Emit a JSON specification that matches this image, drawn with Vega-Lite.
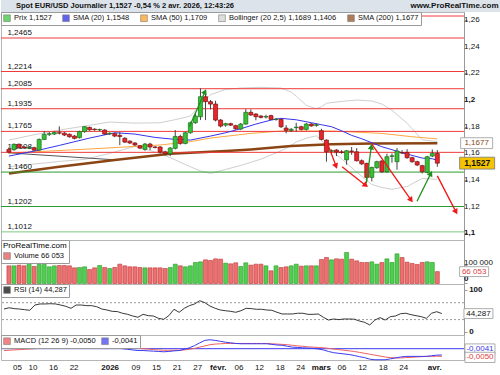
{
"$schema": "https://vega.github.io/schema/vega-lite/v6.json",
"padding": 0,
"background": "white",
"spacing": 0,
"bounds": "flush",
"resolve": {"scale": {"color": "independent", "stroke": "independent"}, "legend": {"color": "independent", "stroke": "independent"}},
"config": {
  "view": {"stroke": "#b5b5b5", "strokeWidth": 1},
  "font": "Liberation Sans",
  "locale": {"number": {"decimal": ",", "thousands": " ", "grouping": [3], "currency": ["", " €"], "minus": "-"}},
  "axis": {"labels": false, "domainColor": "#999", "tickColor": "#999", "tickSize": 3, "grid": false},
  "text": {"font": "Liberation Sans"},
  "legend": {"labelFont": "Liberation Sans", "labelFontSize": 7.5, "labelColor": "#111"}
},
"datasets": {
  "c": [
{"i":0,"d":"2025-12-02","o":1.163,"h":1.1645,"l":1.16,"c":1.161,"v":98200,"r":55,"m":0.0002,"s":-0.0012},
{"i":1,"d":"2025-12-03","o":1.1628,"h":1.1675,"l":1.162,"c":1.1668,"v":98200,"r":58,"m":0.0002,"s":-0.001},
{"i":2,"d":"2025-12-04","o":1.1668,"h":1.1675,"l":1.1638,"c":1.1643,"v":101900,"r":56,"m":0.0004,"s":-0.0008},
{"i":3,"d":"2025-12-05","o":1.1648,"h":1.1655,"l":1.1635,"c":1.1642,"v":98200,"r":55,"m":0.0004,"s":-0.0006},
{"i":4,"d":"2025-12-08","o":1.164,"h":1.1652,"l":1.1632,"c":1.1645,"v":129600,"r":53.5,"m":0.0002,"s":-0.0004},
{"i":5,"d":"2025-12-09","o":1.1643,"h":1.165,"l":1.1618,"c":1.1625,"v":94500,"r":52,"m":0.0002,"s":-0.0002},
{"i":6,"d":"2025-12-10","o":1.1625,"h":1.1712,"l":1.162,"c":1.1705,"v":105600,"r":64.5,"m":0.0006,"s":0},
{"i":7,"d":"2025-12-11","o":1.1705,"h":1.1768,"l":1.17,"c":1.1743,"v":105600,"r":67,"m":0.001,"s":0.0002},
{"i":8,"d":"2025-12-12","o":1.1743,"h":1.176,"l":1.173,"c":1.1748,"v":92600,"r":67,"m":0.0014,"s":0.0004},
{"i":9,"d":"2025-12-15","o":1.1745,"h":1.1765,"l":1.1738,"c":1.1757,"v":98200,"r":67.6,"m":0.0016,"s":0.0006},
{"i":10,"d":"2025-12-16","o":1.1755,"h":1.1803,"l":1.1742,"c":1.1752,"v":100000,"r":67,"m":0.0018,"s":0.0008},
{"i":11,"d":"2025-12-17","o":1.1752,"h":1.176,"l":1.173,"c":1.1738,"v":100000,"r":64.5,"m":0.0018,"s":0.001},
{"i":12,"d":"2025-12-18","o":1.1743,"h":1.175,"l":1.1718,"c":1.1725,"v":98200,"r":61.5,"m":0.0016,"s":0.0012},
{"i":13,"d":"2025-12-19","o":1.173,"h":1.1738,"l":1.1705,"c":1.1713,"v":87000,"r":56.7,"m":0.0014,"s":0.0012},
{"i":14,"d":"2025-12-22","o":1.1718,"h":1.177,"l":1.1712,"c":1.1763,"v":88900,"r":64.5,"m":0.0014,"s":0.0012},
{"i":15,"d":"2025-12-23","o":1.1763,"h":1.1805,"l":1.1755,"c":1.18,"v":92600,"r":64.5,"m":0.0016,"s":0.0012},
{"i":16,"d":"2025-12-24","o":1.1795,"h":1.18,"l":1.177,"c":1.1777,"v":77800,"r":63,"m":0.0016,"s":0.0014},
{"i":17,"d":"2025-12-26","o":1.1782,"h":1.1788,"l":1.177,"c":1.1778,"v":87000,"r":63,"m":0.0016,"s":0.0014},
{"i":18,"d":"2025-12-29","o":1.1776,"h":1.1786,"l":1.1768,"c":1.1779,"v":100000,"r":60.5,"m":0.0014,"s":0.0014},
{"i":19,"d":"2025-12-30","o":1.1775,"h":1.1782,"l":1.1738,"c":1.1745,"v":88900,"r":55,"m":0.0012,"s":0.0014},
{"i":20,"d":"2025-12-31","o":1.1746,"h":1.1758,"l":1.1738,"c":1.1751,"v":83300,"r":52.7,"m":0.0008,"s":0.0014},
{"i":21,"d":"2026-01-02","o":1.1748,"h":1.1755,"l":1.1722,"c":1.173,"v":88900,"r":49.6,"m":0.0006,"s":0.0012},
{"i":22,"d":"2026-01-05","o":1.1735,"h":1.176,"l":1.1662,"c":1.1727,"v":107400,"r":49,"m":0.0004,"s":0.0012},
{"i":23,"d":"2026-01-06","o":1.1713,"h":1.1722,"l":1.1678,"c":1.1685,"v":98200,"r":45,"m":0,"s":0.001},
{"i":24,"d":"2026-01-07","o":1.1692,"h":1.1698,"l":1.167,"c":1.1678,"v":92600,"r":42.5,"m":-0.0004,"s":0.0008},
{"i":25,"d":"2026-01-08","o":1.1678,"h":1.1685,"l":1.1655,"c":1.1663,"v":92600,"r":38.5,"m":-0.0008,"s":0.0006},
{"i":26,"d":"2026-01-09","o":1.1658,"h":1.1662,"l":1.1632,"c":1.164,"v":88900,"r":35.5,"m":-0.0012,"s":0.0002},
{"i":27,"d":"2026-01-12","o":1.163,"h":1.1678,"l":1.162,"c":1.167,"v":87000,"r":42.5,"m":-0.0012,"s":0},
{"i":28,"d":"2026-01-13","o":1.167,"h":1.168,"l":1.1625,"c":1.1648,"v":87000,"r":39.3,"m":-0.0014,"s":-0.0002},
{"i":29,"d":"2026-01-14","o":1.1648,"h":1.1655,"l":1.1638,"c":1.1645,"v":87000,"r":38.5,"m":-0.0016,"s":-0.0006},
{"i":30,"d":"2026-01-15","o":1.1648,"h":1.1655,"l":1.16,"c":1.161,"v":87000,"r":33,"m":-0.0018,"s":-0.0008},
{"i":31,"d":"2026-01-16","o":1.1612,"h":1.162,"l":1.1585,"c":1.1598,"v":83300,"r":30.7,"m":-0.002,"s":-0.001},
{"i":32,"d":"2026-01-19","o":1.1597,"h":1.1648,"l":1.158,"c":1.164,"v":88900,"r":39.3,"m":-0.0018,"s":-0.001},
{"i":33,"d":"2026-01-20","o":1.1638,"h":1.1775,"l":1.163,"c":1.1727,"v":107400,"r":54.4,"m":-0.0014,"s":-0.001},
{"i":34,"d":"2026-01-21","o":1.1727,"h":1.174,"l":1.1665,"c":1.1675,"v":98200,"r":47.3,"m":-0.0012,"s":-0.001},
{"i":35,"d":"2026-01-22","o":1.1675,"h":1.1762,"l":1.1668,"c":1.1755,"v":92600,"r":56.7,"m":-0.0004,"s":-0.0008},
{"i":36,"d":"2026-01-23","o":1.1755,"h":1.1838,"l":1.1748,"c":1.183,"v":98200,"r":63,"m":0.0006,"s":-0.0004},
{"i":37,"d":"2026-01-26","o":1.183,"h":1.1905,"l":1.1822,"c":1.188,"v":116700,"r":67,"m":0.002,"s":0.0002},
{"i":38,"d":"2026-01-27","o":1.1875,"h":1.2088,"l":1.185,"c":1.2025,"v":120400,"r":74.7,"m":0.0038,"s":0.001},
{"i":39,"d":"2026-01-28","o":1.2025,"h":1.2065,"l":1.185,"c":1.1988,"v":131500,"r":70,"m":0.0054,"s":0.0018},
{"i":40,"d":"2026-01-29","o":1.1988,"h":1.2,"l":1.193,"c":1.197,"v":127800,"r":62,"m":0.0058,"s":0.0026},
{"i":41,"d":"2026-01-30","o":1.197,"h":1.1995,"l":1.184,"c":1.185,"v":137000,"r":56.7,"m":0.0054,"s":0.003},
{"i":42,"d":"2026-02-02","o":1.185,"h":1.1858,"l":1.1795,"c":1.1805,"v":135200,"r":52.7,"m":0.0048,"s":0.0032},
{"i":43,"d":"2026-02-03","o":1.1812,"h":1.183,"l":1.18,"c":1.1823,"v":113000,"r":51,"m":0.0042,"s":0.0034},
{"i":44,"d":"2026-02-04","o":1.1823,"h":1.183,"l":1.1805,"c":1.1812,"v":109300,"r":49.6,"m":0.0038,"s":0.0034},
{"i":45,"d":"2026-02-05","o":1.1808,"h":1.1815,"l":1.1778,"c":1.1785,"v":114800,"r":47.3,"m":0.0034,"s":0.0034},
{"i":46,"d":"2026-02-06","o":1.1783,"h":1.1828,"l":1.1775,"c":1.182,"v":94500,"r":51,"m":0.0032,"s":0.0034},
{"i":47,"d":"2026-02-09","o":1.182,"h":1.1932,"l":1.1815,"c":1.1908,"v":114800,"r":56.7,"m":0.0032,"s":0.0034},
{"i":48,"d":"2026-02-10","o":1.1908,"h":1.193,"l":1.1882,"c":1.1888,"v":101900,"r":56,"m":0.0032,"s":0.0034},
{"i":49,"d":"2026-02-11","o":1.1895,"h":1.1902,"l":1.1848,"c":1.1875,"v":107400,"r":54.4,"m":0.0032,"s":0.0034},
{"i":50,"d":"2026-02-12","o":1.188,"h":1.1888,"l":1.1862,"c":1.187,"v":107400,"r":54.4,"m":0.0032,"s":0.0034},
{"i":51,"d":"2026-02-13","o":1.1873,"h":1.189,"l":1.1862,"c":1.1876,"v":98200,"r":52.7,"m":0.0032,"s":0.0034},
{"i":52,"d":"2026-02-16","o":1.1883,"h":1.189,"l":1.185,"c":1.1855,"v":70400,"r":52,"m":0.0028,"s":0.0032},
{"i":53,"d":"2026-02-17","o":1.1855,"h":1.1865,"l":1.1845,"c":1.1857,"v":98200,"r":47.3,"m":0.0024,"s":0.003},
{"i":54,"d":"2026-02-18","o":1.1855,"h":1.1862,"l":1.179,"c":1.18,"v":88900,"r":43.3,"m":0.0022,"s":0.0028},
{"i":55,"d":"2026-02-19","o":1.179,"h":1.1812,"l":1.175,"c":1.1773,"v":92600,"r":43.3,"m":0.0016,"s":0.0026},
{"i":56,"d":"2026-02-20","o":1.1772,"h":1.179,"l":1.176,"c":1.1781,"v":98200,"r":43.3,"m":0.001,"s":0.0022},
{"i":57,"d":"2026-02-23","o":1.1793,"h":1.183,"l":1.1763,"c":1.1797,"v":107400,"r":45,"m":0.0008,"s":0.0018},
{"i":58,"d":"2026-02-24","o":1.18,"h":1.1808,"l":1.1772,"c":1.178,"v":96300,"r":45,"m":0.0006,"s":0.0016},
{"i":59,"d":"2026-02-25","o":1.178,"h":1.1828,"l":1.1772,"c":1.182,"v":98200,"r":42.5,"m":0.0004,"s":0.0012},
{"i":60,"d":"2026-02-26","o":1.182,"h":1.1828,"l":1.18,"c":1.1806,"v":98200,"r":42.5,"m":0.0002,"s":0.001},
{"i":61,"d":"2026-02-27","o":1.181,"h":1.1825,"l":1.18,"c":1.1815,"v":98200,"r":43.3,"m":-0.0002,"s":0.0008},
{"i":62,"d":"2026-03-02","o":1.177,"h":1.1785,"l":1.1698,"c":1.1705,"v":133300,"r":35.5,"m":-0.0008,"s":0.0006},
{"i":63,"d":"2026-03-03","o":1.17,"h":1.1705,"l":1.1538,"c":1.1612,"v":144500,"r":29,"m":-0.0018,"s":0.0002},
{"i":64,"d":"2026-03-04","o":1.1615,"h":1.163,"l":1.1595,"c":1.1622,"v":131500,"r":31.4,"m":-0.0026,"s":-0.0002},
{"i":65,"d":"2026-03-05","o":1.1625,"h":1.1632,"l":1.158,"c":1.161,"v":137000,"r":30,"m":-0.003,"s":-0.0006},
{"i":66,"d":"2026-03-06","o":1.1612,"h":1.1625,"l":1.1598,"c":1.1607,"v":135200,"r":31.4,"m":-0.0034,"s":-0.001},
{"i":67,"d":"2026-03-09","o":1.1552,"h":1.1625,"l":1.1515,"c":1.162,"v":172200,"r":31.4,"m":-0.0038,"s":-0.0014},
{"i":68,"d":"2026-03-10","o":1.1618,"h":1.1648,"l":1.159,"c":1.1614,"v":135200,"r":31,"m":-0.0044,"s":-0.0018},
{"i":69,"d":"2026-03-11","o":1.1612,"h":1.164,"l":1.154,"c":1.1545,"v":125900,"r":26.7,"m":-0.0052,"s":-0.0024},
{"i":70,"d":"2026-03-12","o":1.1545,"h":1.1555,"l":1.1512,"c":1.1522,"v":116700,"r":23.6,"m":-0.0058,"s":-0.003},
{"i":71,"d":"2026-03-13","o":1.1525,"h":1.153,"l":1.139,"c":1.142,"v":116700,"r":17.3,"m":-0.0068,"s":-0.0036},
{"i":72,"d":"2026-03-16","o":1.142,"h":1.15,"l":1.139,"c":1.1495,"v":120400,"r":29,"m":-0.0072,"s":-0.0042},
{"i":73,"d":"2026-03-17","o":1.1493,"h":1.1545,"l":1.1485,"c":1.1538,"v":107400,"r":34.6,"m":-0.0072,"s":-0.0048},
{"i":74,"d":"2026-03-18","o":1.1543,"h":1.155,"l":1.1455,"c":1.1462,"v":116700,"r":29,"m":-0.0072,"s":-0.0054},
{"i":75,"d":"2026-03-19","o":1.1462,"h":1.1598,"l":1.1455,"c":1.1575,"v":137000,"r":37,"m":-0.0066,"s":-0.0058},
{"i":76,"d":"2026-03-20","o":1.1578,"h":1.16,"l":1.153,"c":1.1582,"v":116700,"r":38.5,"m":-0.006,"s":-0.006},
{"i":77,"d":"2026-03-23","o":1.1538,"h":1.164,"l":1.1478,"c":1.1618,"v":164800,"r":44,"m":-0.0054,"s":-0.006},
{"i":78,"d":"2026-03-24","o":1.1606,"h":1.1625,"l":1.1595,"c":1.1604,"v":144500,"r":45,"m":-0.005,"s":-0.0058},
{"i":79,"d":"2026-03-25","o":1.1608,"h":1.1632,"l":1.156,"c":1.1568,"v":118500,"r":41.7,"m":-0.005,"s":-0.0056},
{"i":80,"d":"2026-03-26","o":1.1568,"h":1.1575,"l":1.153,"c":1.1538,"v":111100,"r":39.3,"m":-0.005,"s":-0.0054},
{"i":81,"d":"2026-03-27","o":1.1538,"h":1.1545,"l":1.1505,"c":1.1513,"v":105600,"r":37,"m":-0.005,"s":-0.0052},
{"i":82,"d":"2026-03-30","o":1.1508,"h":1.1515,"l":1.145,"c":1.1463,"v":116700,"r":33,"m":-0.005,"s":-0.005},
{"i":83,"d":"2026-03-31","o":1.1458,"h":1.1582,"l":1.145,"c":1.1575,"v":120400,"r":45,"m":-0.0046,"s":-0.005},
{"i":84,"d":"2026-04-01","o":1.158,"h":1.163,"l":1.1572,"c":1.16,"v":116700,"r":48.7,"m":-0.0042,"s":-0.0049},
{"i":85,"d":"2026-04-02","o":1.16,"h":1.1625,"l":1.15,"c":1.1527,"v":66053,"r":44.287,"m":-0.0041,"s":-0.005}
  ],
  "xl": [{"i":3,"t":"05","mo":false},{"i":6,"t":"10","mo":false},{"i":10,"t":"16","mo":false},{"i":14,"t":"22","mo":false},{"i":21,"t":"2026","mo":true},{"i":26,"t":"09","mo":false},{"i":30,"t":"15","mo":false},{"i":34,"t":"21","mo":false},{"i":38,"t":"27","mo":false},{"i":42,"t":"févr.","mo":true},{"i":46,"t":"06","mo":false},{"i":50,"t":"12","mo":false},{"i":54,"t":"18","mo":false},{"i":58,"t":"24","mo":false},{"i":62,"t":"mars","mo":true},{"i":66,"t":"06","mo":false},{"i":70,"t":"12","mo":false},{"i":74,"t":"18","mo":false},{"i":78,"t":"24","mo":false},{"i":84,"t":"avr.","mo":true}],
  "yl": [{"p":1.1,"b":true},{"p":1.12,"b":false},{"p":1.14,"b":false},{"p":1.16,"b":false},{"p":1.18,"b":false},{"p":1.2,"b":true},{"p":1.22,"b":false},{"p":1.24,"b":false},{"p":1.26,"b":false}],
  "sma20": [{"i":0,"v":1.158},{"i":6,"v":1.1625},{"i":10,"v":1.166},{"i":16,"v":1.1715},{"i":21,"v":1.1755},{"i":25,"v":1.1745},{"i":29,"v":1.172},{"i":33,"v":1.1705},{"i":36,"v":1.17},{"i":40,"v":1.173},{"i":43,"v":1.1755},{"i":46,"v":1.1785},{"i":49,"v":1.182},{"i":52,"v":1.185},{"i":54,"v":1.1863},{"i":57,"v":1.1852},{"i":60,"v":1.183},{"i":62,"v":1.1815},{"i":64,"v":1.18},{"i":66,"v":1.177},{"i":68,"v":1.1735},{"i":70,"v":1.171},{"i":72,"v":1.168},{"i":74,"v":1.165},{"i":76,"v":1.1628},{"i":78,"v":1.1605},{"i":80,"v":1.1585},{"i":82,"v":1.1565},{"i":84,"v":1.156},{"i":85,"v":1.1548}],
  "sma50": [{"i":0,"v":1.1603},{"i":15,"v":1.1631},{"i":30,"v":1.1663},{"i":36,"v":1.1688},{"i":40,"v":1.1715},{"i":48,"v":1.175},{"i":54,"v":1.1768},{"i":64,"v":1.1768},{"i":74,"v":1.175},{"i":80,"v":1.1725},{"i":85,"v":1.1709}],
  "sma200": [{"i":0,"v":1.145},{"i":10,"v":1.15},{"i":21,"v":1.155},{"i":32,"v":1.1597},{"i":44,"v":1.162},{"i":48,"v":1.163},{"i":56,"v":1.1655},{"i":64,"v":1.1668},{"i":72,"v":1.1675},{"i":85,"v":1.1677}],
  "dark": [{"i":0,"v":1.1604},{"i":21,"v":1.1552}],
  "bb": [{"i":0,"u":1.17,"lo":1.15},{"i":5,"u":1.174,"lo":1.152},{"i":10,"u":1.1775,"lo":1.154},{"i":15,"u":1.1805,"lo":1.1555},{"i":20,"u":1.1835,"lo":1.16},{"i":25,"u":1.1827,"lo":1.1653},{"i":30,"u":1.183,"lo":1.16},{"i":33,"u":1.1853,"lo":1.1551},{"i":36,"u":1.188,"lo":1.15},{"i":38,"u":1.1963,"lo":1.1469},{"i":40,"u":1.204,"lo":1.145},{"i":43,"u":1.208,"lo":1.148},{"i":46,"u":1.209,"lo":1.151},{"i":50,"u":1.2095,"lo":1.1557},{"i":54,"u":1.209,"lo":1.162},{"i":56,"u":1.206,"lo":1.166},{"i":57,"u":1.203,"lo":1.1686},{"i":59,"u":1.196,"lo":1.1714},{"i":61,"u":1.1936,"lo":1.1732},{"i":62,"u":1.195,"lo":1.17},{"i":63,"u":1.1976,"lo":1.1648},{"i":66,"u":1.199,"lo":1.156},{"i":69,"u":1.2,"lo":1.146},{"i":72,"u":1.1993,"lo":1.1367},{"i":74,"u":1.197,"lo":1.1345},{"i":76,"u":1.1924,"lo":1.1331},{"i":79,"u":1.1826,"lo":1.1352},{"i":82,"u":1.1702,"lo":1.1412},{"i":85,"u":1.1689,"lo":1.1406}],
  "levels": [{"p":1.263,"k":"r"},{"p":1.2465,"k":"r"},{"p":1.2214,"k":"r"},{"p":1.2085,"k":"r"},{"p":1.1935,"k":"r"},{"p":1.1765,"k":"r"},{"p":1.1608,"k":"r"},{"p":1.146,"k":"g"},{"p":1.1202,"k":"g"},{"p":1.1012,"k":"lg"}],
  "arrows": [{"x1":35.8,"p1":1.18,"x2":38.9,"p2":1.2063,"k":"g"},{"x1":63.1,"p1":1.1685,"x2":64.9,"p2":1.1505,"k":"r"},{"x1":66.1,"p1":1.15,"x2":70.8,"p2":1.136,"k":"r"},{"x1":70.9,"p1":1.1375,"x2":71.9,"p2":1.165,"k":"g"},{"x1":71.9,"p1":1.1675,"x2":79.8,"p2":1.125,"k":"r"},{"x1":80.97,"p1":1.1242,"x2":83.7,"p2":1.145,"k":"g"},{"x1":85,"p1":1.1432,"x2":88.7,"p2":1.1162,"k":"r"}]
},
"vconcat": [
 {
  "width": 500, "height": 12,
  "view": {"fill": "#dce3eb", "stroke": null},
  "layer": [
   {"data": {"values": [{"t": "Spot EUR/USD Journalier 1,1527 -0,54 % 2 avr. 2026, 12:43:26"}]},
    "mark": {"type": "text", "align": "left", "baseline": "middle", "fontWeight": "bold", "fontSize": 7.5, "color": "#111"},
    "encoding": {"text": {"field": "t"}, "x": {"datum": 0.03, "type": "quantitative", "scale": {"domain": [0, 1]}, "axis": null}, "y": {"datum": 0.5, "type": "quantitative", "scale": {"domain": [0, 1]}, "axis": null}}},
   {"data": {"values": [{"t": "www.ProRealTime.com"}]},
    "mark": {"type": "text", "align": "right", "baseline": "middle", "fontWeight": "bold", "fontSize": 8, "color": "#111"},
    "encoding": {"text": {"field": "t"}, "x": {"datum": 0.995, "type": "quantitative", "scale": {"domain": [0, 1]}, "axis": null}, "y": {"datum": 0.5, "type": "quantitative", "scale": {"domain": [0, 1]}, "axis": null}}}
  ]
 },
 {
  "width": 463, "height": 228,
  "layer": [
   {"data": {"name": "bb"}, "mark": {"type": "line", "color": "#cfcfcf", "strokeWidth": 1},
    "encoding": {"x": {"field": "i", "type": "quantitative", "scale": {"domain": [-0.58, 89.3], "nice": false, "zero": false}, "axis": null},
     "y": {"field": "u", "type": "quantitative", "scale": {"domain": [1.0951, 1.266], "nice": false, "zero": false}, "title": null,
      "axis": {"orient": "right", "values": [1.1, 1.12, 1.14, 1.16, 1.18, 1.2, 1.22, 1.24, 1.26], "labels": false}}}},
   {"data": {"name": "yl"}, "transform": [{"filter": "!datum.b"}],
    "mark": {"type": "text", "align": "left", "baseline": "middle", "fontSize": 8, "color": "#111", "clip": false},
    "encoding": {"x": {"datum": 90.3, "type": "quantitative", "scale": {"domain": [-0.58, 89.3], "nice": false, "zero": false}, "axis": null},
     "y": {"field": "p", "type": "quantitative", "scale": {"domain": [1.0951, 1.266], "nice": false, "zero": false}, "title": null},
     "text": {"field": "p", "type": "quantitative", "format": ".2~f"}}},
   {"data": {"name": "yl"}, "transform": [{"filter": "datum.b"}],
    "mark": {"type": "text", "align": "left", "baseline": "middle", "fontSize": 8, "fontWeight": "bold", "color": "#111", "clip": false},
    "encoding": {"x": {"datum": 90.3, "type": "quantitative", "scale": {"domain": [-0.58, 89.3], "nice": false, "zero": false}, "axis": null},
     "y": {"field": "p", "type": "quantitative", "scale": {"domain": [1.0951, 1.266], "nice": false, "zero": false}, "title": null},
     "text": {"field": "p", "type": "quantitative", "format": ".2~f"}}},
   {"data": {"name": "bb"}, "mark": {"type": "line", "color": "#cfcfcf", "strokeWidth": 1},
    "encoding": {"x": {"field": "i", "type": "quantitative", "scale": {"domain": [-0.58, 89.3], "nice": false, "zero": false}, "axis": null},
     "y": {"field": "lo", "type": "quantitative", "scale": {"domain": [1.0951, 1.266], "nice": false, "zero": false}, "title": null}}},
   {"data": {"name": "dark"}, "mark": {"type": "line", "color": "#555555", "strokeWidth": 1},
    "encoding": {"x": {"field": "i", "type": "quantitative", "scale": {"domain": [-0.58, 89.3], "nice": false, "zero": false}, "axis": null},
     "y": {"field": "v", "type": "quantitative", "scale": {"domain": [1.0951, 1.266], "nice": false, "zero": false}, "title": null}}},
   {"data": {"name": "sma200"}, "mark": {"type": "line", "color": "#8b4513", "strokeWidth": 2.5},
    "encoding": {"x": {"field": "i", "type": "quantitative", "scale": {"domain": [-0.58, 89.3], "nice": false, "zero": false}, "axis": null},
     "y": {"field": "v", "type": "quantitative", "scale": {"domain": [1.0951, 1.266], "nice": false, "zero": false}, "title": null}}},
   {"data": {"name": "sma50"}, "mark": {"type": "line", "color": "#ffa640", "strokeWidth": 1},
    "encoding": {"x": {"field": "i", "type": "quantitative", "scale": {"domain": [-0.58, 89.3], "nice": false, "zero": false}, "axis": null},
     "y": {"field": "v", "type": "quantitative", "scale": {"domain": [1.0951, 1.266], "nice": false, "zero": false}, "title": null}}},
   {"data": {"name": "levels"}, "mark": {"type": "rule", "strokeWidth": 1},
    "encoding": {"y": {"field": "p", "type": "quantitative", "scale": {"domain": [1.0951, 1.266], "nice": false, "zero": false}, "title": null},
     "stroke": {"field": "k", "type": "nominal", "scale": {"domain": ["r", "g", "lg"], "range": ["#f03a3a", "#2e9b2e", "#80c880"]}, "legend": null}}},
   {"data": {"name": "levels"}, "transform": [{"filter": "datum.p < 1.26"}],
    "mark": {"type": "text", "align": "left", "baseline": "bottom", "dy": -1, "fontSize": 8, "color": "#111"},
    "encoding": {"x": {"datum": -0.3, "type": "quantitative", "scale": {"domain": [-0.58, 89.3], "nice": false, "zero": false}, "axis": null},
     "y": {"field": "p", "type": "quantitative", "scale": {"domain": [1.0951, 1.266], "nice": false, "zero": false}, "title": null},
     "text": {"field": "p", "type": "quantitative", "format": ".4f"}}},
   {"data": {"name": "sma20"}, "mark": {"type": "line", "color": "#3434ee", "strokeWidth": 1},
    "encoding": {"x": {"field": "i", "type": "quantitative", "scale": {"domain": [-0.58, 89.3], "nice": false, "zero": false}, "axis": null},
     "y": {"field": "v", "type": "quantitative", "scale": {"domain": [1.0951, 1.266], "nice": false, "zero": false}, "title": null}}},
   {"data": {"name": "c"}, "mark": {"type": "rule", "color": "#444444", "strokeWidth": 1},
    "encoding": {"x": {"field": "i", "type": "quantitative", "scale": {"domain": [-0.58, 89.3], "nice": false, "zero": false}, "axis": null},
     "y": {"field": "l", "type": "quantitative", "scale": {"domain": [1.0951, 1.266], "nice": false, "zero": false}, "title": null},
     "y2": {"field": "h"}}},
   {"data": {"name": "c"}, "transform": [{"filter": "datum.c >= datum.o"}],
    "mark": {"type": "bar", "size": 4, "fill": "#33c233", "stroke": "#1d6b1d", "strokeWidth": 0.7},
    "encoding": {"x": {"field": "i", "type": "quantitative", "scale": {"domain": [-0.58, 89.3], "nice": false, "zero": false}, "axis": null},
     "y": {"field": "o", "type": "quantitative", "scale": {"domain": [1.0951, 1.266], "nice": false, "zero": false}, "title": null},
     "y2": {"field": "c"}}},
   {"data": {"name": "c"}, "transform": [{"filter": "datum.c < datum.o"}],
    "mark": {"type": "bar", "size": 4, "fill": "#e8262a", "stroke": "#7a1010", "strokeWidth": 0.7},
    "encoding": {"x": {"field": "i", "type": "quantitative", "scale": {"domain": [-0.58, 89.3], "nice": false, "zero": false}, "axis": null},
     "y": {"field": "o", "type": "quantitative", "scale": {"domain": [1.0951, 1.266], "nice": false, "zero": false}, "title": null},
     "y2": {"field": "c"}}},
   {"data": {"name": "arrows"}, "transform": [{"filter": "datum.k == 'r'"}],
    "mark": {"type": "rule", "color": "#f01818", "strokeWidth": 1.3},
    "encoding": {"x": {"field": "x1", "type": "quantitative", "scale": {"domain": [-0.58, 89.3], "nice": false, "zero": false}, "axis": null},
     "x2": {"field": "x2"},
     "y": {"field": "p1", "type": "quantitative", "scale": {"domain": [1.0951, 1.266], "nice": false, "zero": false}, "title": null},
     "y2": {"field": "p2"}}},
   {"data": {"name": "arrows"}, "transform": [{"filter": "datum.k == 'g'"}],
    "mark": {"type": "rule", "color": "#1f8f1f", "strokeWidth": 1.3},
    "encoding": {"x": {"field": "x1", "type": "quantitative", "scale": {"domain": [-0.58, 89.3], "nice": false, "zero": false}, "axis": null},
     "x2": {"field": "x2"},
     "y": {"field": "p1", "type": "quantitative", "scale": {"domain": [1.0951, 1.266], "nice": false, "zero": false}, "title": null},
     "y2": {"field": "p2"}}},
   {"data": {"name": "arrows"}, "transform": [{"filter": "datum.k == 'r'"}, {"calculate": "atan2((datum.x2 - datum.x1) * 5.151, (datum.p2 - datum.p1) * 1333.3) * 180 / PI", "as": "ang"}],
    "mark": {"type": "point", "shape": "triangle-up", "filled": true, "color": "#f01818", "size": 40, "opacity": 1},
    "encoding": {"x": {"field": "x2", "type": "quantitative", "scale": {"domain": [-0.58, 89.3], "nice": false, "zero": false}, "axis": null},
     "y": {"field": "p2", "type": "quantitative", "scale": {"domain": [1.0951, 1.266], "nice": false, "zero": false}, "title": null},
     "angle": {"field": "ang", "type": "quantitative", "scale": null}}},
   {"data": {"name": "arrows"}, "transform": [{"filter": "datum.k == 'g'"}, {"calculate": "atan2((datum.x2 - datum.x1) * 5.151, (datum.p2 - datum.p1) * 1333.3) * 180 / PI", "as": "ang"}],
    "mark": {"type": "point", "shape": "triangle-up", "filled": true, "color": "#1f8f1f", "size": 40, "opacity": 1},
    "encoding": {"x": {"field": "x2", "type": "quantitative", "scale": {"domain": [-0.58, 89.3], "nice": false, "zero": false}, "axis": null},
     "y": {"field": "p2", "type": "quantitative", "scale": {"domain": [1.0951, 1.266], "nice": false, "zero": false}, "title": null},
     "angle": {"field": "ang", "type": "quantitative", "scale": null}}},
   {"data": {"values": [{"p": 1.1677}]},
    "mark": {"type": "point", "shape": "M-1,-0.34H1V0.34H-1Z", "size": 1024, "filled": true, "fill": "white", "stroke": "#999999", "strokeWidth": 0.8, "opacity": 1, "clip": false},
    "encoding": {"x": {"datum": 92.8, "type": "quantitative", "scale": {"domain": [-0.58, 89.3], "nice": false, "zero": false}, "axis": null},
     "y": {"field": "p", "type": "quantitative", "scale": {"domain": [1.0951, 1.266], "nice": false, "zero": false}, "title": null}}},
   {"data": {"values": [{"p": 1.1677}]},
    "mark": {"type": "text", "align": "center", "baseline": "middle", "fontSize": 8, "color": "#8b4513", "clip": false},
    "encoding": {"x": {"datum": 92.8, "type": "quantitative", "scale": {"domain": [-0.58, 89.3], "nice": false, "zero": false}, "axis": null},
     "y": {"field": "p", "type": "quantitative", "scale": {"domain": [1.0951, 1.266], "nice": false, "zero": false}, "title": null},
     "text": {"field": "p", "type": "quantitative", "format": ".4f"}}},
   {"data": {"values": [{"p": 1.1527}]},
    "mark": {"type": "point", "shape": "M-1,-0.34H1V0.34H-1Z", "size": 1225, "filled": true, "fill": "#f5c400", "stroke": "#777777", "strokeWidth": 0.8, "opacity": 1, "clip": false},
    "encoding": {"x": {"datum": 92.9, "type": "quantitative", "scale": {"domain": [-0.58, 89.3], "nice": false, "zero": false}, "axis": null},
     "y": {"field": "p", "type": "quantitative", "scale": {"domain": [1.0951, 1.266], "nice": false, "zero": false}, "title": null}}},
   {"data": {"values": [{"p": 1.1527}]},
    "mark": {"type": "text", "align": "center", "baseline": "middle", "fontSize": 8.5, "fontWeight": "bold", "color": "#111", "clip": false},
    "encoding": {"x": {"datum": 92.9, "type": "quantitative", "scale": {"domain": [-0.58, 89.3], "nice": false, "zero": false}, "axis": null},
     "y": {"field": "p", "type": "quantitative", "scale": {"domain": [1.0951, 1.266], "nice": false, "zero": false}, "title": null},
     "text": {"field": "p", "type": "quantitative", "format": ".4f"}}},
   {"data": {"values": []}, "mark": {"type": "square"},
    "encoding": {"color": {"field": "s", "type": "nominal",
      "scale": {"domain": ["Prix 1,1527", "SMA (20) 1,1548", "SMA (50) 1,1709", "Bollinger (20 2,5) 1,1689 1,1406", "SMA (200) 1,1677"], "range": ["#33c233", "#2020e8", "#ff9a1a", "#d0d0d0", "#8b4513"]},
      "legend": {"orient": "top-left", "direction": "horizontal", "title": null, "offset": 0, "padding": 2, "fillColor": "white", "strokeColor": "#9a9a9a", "symbolType": "square", "symbolSize": 45, "symbolStrokeColor": "#444", "symbolStrokeWidth": 0.6, "labelOffset": 3, "columnPadding": 9, "rowPadding": 0}}}}
  ]
 },
 {
  "width": 463, "height": 44,
  "layer": [
   {"data": {"name": "c"}, "transform": [{"filter": "datum.c >= datum.o"}],
    "mark": {"type": "bar", "size": 4, "fill": "#4fcf4f", "stroke": "#2a9a2a", "strokeWidth": 0.6},
    "encoding": {"x": {"field": "i", "type": "quantitative", "scale": {"domain": [-0.58, 89.3], "nice": false, "zero": false}, "axis": null},
     "y": {"field": "v", "type": "quantitative", "scale": {"domain": [-2778, 241666], "nice": false, "zero": false}, "title": null,
      "axis": {"orient": "right", "values": [0, 100000], "labels": false}}}},
   {"data": {"name": "c"}, "transform": [{"filter": "datum.c < datum.o"}],
    "mark": {"type": "bar", "size": 4, "fill": "#ec7070", "stroke": "#c23535", "strokeWidth": 0.6},
    "encoding": {"x": {"field": "i", "type": "quantitative", "scale": {"domain": [-0.58, 89.3], "nice": false, "zero": false}, "axis": null},
     "y": {"field": "v", "type": "quantitative", "scale": {"domain": [-2778, 241666], "nice": false, "zero": false}, "title": null}}},
   {"data": {"values": [{"v": 100000}]},
    "mark": {"type": "text", "align": "left", "baseline": "middle", "dy": -2, "fontSize": 8, "color": "#111", "clip": false},
    "encoding": {"x": {"datum": 90.3, "type": "quantitative", "scale": {"domain": [-0.58, 89.3], "nice": false, "zero": false}, "axis": null},
     "y": {"field": "v", "type": "quantitative", "scale": {"domain": [-2778, 241666], "nice": false, "zero": false}, "title": null},
     "text": {"field": "v", "type": "quantitative", "format": ",d"}}},
   {"data": {"values": [{"v": 0}]},
    "mark": {"type": "text", "align": "left", "baseline": "bottom", "fontSize": 8, "fontWeight": "bold", "color": "#111", "clip": false},
    "encoding": {"x": {"datum": 90.3, "type": "quantitative", "scale": {"domain": [-0.58, 89.3], "nice": false, "zero": false}, "axis": null},
     "y": {"field": "v", "type": "quantitative", "scale": {"domain": [-2778, 241666], "nice": false, "zero": false}, "title": null},
     "text": {"field": "v", "type": "quantitative", "format": "d"}}},
   {"data": {"values": [{"v": 66053}]},
    "mark": {"type": "point", "shape": "M-1,-0.34H1V0.34H-1Z", "size": 841, "filled": true, "fill": "white", "stroke": "#999999", "strokeWidth": 0.8, "opacity": 1, "clip": false},
    "encoding": {"x": {"datum": 92.3, "type": "quantitative", "scale": {"domain": [-0.58, 89.3], "nice": false, "zero": false}, "axis": null},
     "y": {"field": "v", "type": "quantitative", "scale": {"domain": [-2778, 241666], "nice": false, "zero": false}, "title": null}}},
   {"data": {"values": [{"v": 66053}]},
    "mark": {"type": "text", "align": "center", "baseline": "middle", "fontSize": 8, "color": "#e04040", "clip": false},
    "encoding": {"x": {"datum": 92.3, "type": "quantitative", "scale": {"domain": [-0.58, 89.3], "nice": false, "zero": false}, "axis": null},
     "y": {"field": "v", "type": "quantitative", "scale": {"domain": [-2778, 241666], "nice": false, "zero": false}, "title": null},
     "text": {"field": "v", "type": "quantitative", "format": ",d"}}},
   {"data": {"values": []}, "mark": {"type": "square"},
    "encoding": {"color": {"field": "s", "type": "nominal",
      "scale": {"domain": ["Volume 66 053"], "range": ["#e05050"]},
      "legend": {"orient": "top-left", "direction": "horizontal", "title": "ProRealTime.com", "titleFontWeight": "normal", "titleFontSize": 8, "titleFont": "Liberation Sans", "titlePadding": 2, "offset": 0, "padding": 2, "fillColor": "white", "strokeColor": "#9a9a9a", "symbolType": "square", "symbolSize": 45, "symbolStrokeColor": "#444", "symbolStrokeWidth": 0.6, "labelOffset": 3}}}}
  ]
 },
 {
  "width": 463, "height": 51,
  "layer": [
   {"data": {"values": [{"r": 70}, {"r": 30}]},
    "mark": {"type": "rule", "color": "#9a9a9a", "strokeWidth": 1, "strokeDash": [2, 2]},
    "encoding": {"y": {"field": "r", "type": "quantitative", "scale": {"domain": [-6.4, 114.2], "nice": false, "zero": false}, "title": null,
      "axis": {"orient": "right", "values": [0, 100], "labels": false}}}},
   {"data": {"values": [{"r": 100}, {"r": 0}]},
    "mark": {"type": "text", "align": "left", "baseline": "middle", "fontSize": 8, "fontWeight": "bold", "color": "#111", "clip": false},
    "encoding": {"x": {"datum": 90.3, "type": "quantitative", "scale": {"domain": [-0.58, 89.3], "nice": false, "zero": false}, "axis": null},
     "y": {"field": "r", "type": "quantitative", "scale": {"domain": [-6.4, 114.2], "nice": false, "zero": false}, "title": null},
     "text": {"field": "r", "type": "quantitative", "format": "d"}}},
   {"data": {"name": "c"}, "mark": {"type": "line", "color": "#222222", "strokeWidth": 0.9},
    "encoding": {"x": {"field": "i", "type": "quantitative", "scale": {"domain": [-0.58, 89.3], "nice": false, "zero": false}, "axis": null},
     "y": {"field": "r", "type": "quantitative", "scale": {"domain": [-6.4, 114.2], "nice": false, "zero": false}, "title": null}}},
   {"data": {"values": [{"r": 44.287}]},
    "mark": {"type": "point", "shape": "M-1,-0.34H1V0.34H-1Z", "size": 841, "filled": true, "fill": "white", "stroke": "#999999", "strokeWidth": 0.8, "opacity": 1, "clip": false},
    "encoding": {"x": {"datum": 92.1, "type": "quantitative", "scale": {"domain": [-0.58, 89.3], "nice": false, "zero": false}, "axis": null},
     "y": {"field": "r", "type": "quantitative", "scale": {"domain": [-6.4, 114.2], "nice": false, "zero": false}, "title": null}}},
   {"data": {"values": [{"r": 44.287}]},
    "mark": {"type": "text", "align": "center", "baseline": "middle", "fontSize": 8, "color": "#111", "clip": false},
    "encoding": {"x": {"datum": 92.1, "type": "quantitative", "scale": {"domain": [-0.58, 89.3], "nice": false, "zero": false}, "axis": null},
     "y": {"field": "r", "type": "quantitative", "scale": {"domain": [-6.4, 114.2], "nice": false, "zero": false}, "title": null},
     "text": {"field": "r", "type": "quantitative", "format": ".3f"}}},
   {"data": {"values": []}, "mark": {"type": "square"},
    "encoding": {"color": {"field": "s", "type": "nominal",
      "scale": {"domain": ["RSI (14) 44,287"], "range": ["#000000"]},
      "legend": {"orient": "top-left", "direction": "horizontal", "title": null, "offset": 0, "padding": 2, "fillColor": "white", "strokeColor": "#9a9a9a", "symbolType": "square", "symbolSize": 45, "symbolStrokeColor": "#444", "symbolStrokeWidth": 0.6, "labelOffset": 3}}}}
  ]
 },
 {
  "width": 463, "height": 25,
  "layer": [
   {"data": {"values": [{"z": 0}]},
    "mark": {"type": "rule", "color": "#3a3af0", "strokeWidth": 1},
    "encoding": {"y": {"field": "z", "type": "quantitative", "scale": {"domain": [-0.00735, 0.0089], "nice": false, "zero": false}, "title": null, "axis": null}}},
   {"data": {"name": "c"}, "mark": {"type": "line", "color": "#f06060", "strokeWidth": 1},
    "encoding": {"x": {"field": "i", "type": "quantitative", "scale": {"domain": [-0.58, 89.3], "nice": false, "zero": false}, "axis": null},
     "y": {"field": "s", "type": "quantitative", "scale": {"domain": [-0.00735, 0.0089], "nice": false, "zero": false}, "title": null, "axis": null}}},
   {"data": {"name": "c"}, "mark": {"type": "line", "color": "#3a3af0", "strokeWidth": 1},
    "encoding": {"x": {"field": "i", "type": "quantitative", "scale": {"domain": [-0.58, 89.3], "nice": false, "zero": false}, "axis": null},
     "y": {"field": "m", "type": "quantitative", "scale": {"domain": [-0.00735, 0.0089], "nice": false, "zero": false}, "title": null, "axis": null}}},
   {"data": {"name": "xl"}, "transform": [{"filter": "!datum.mo"}],
    "mark": {"type": "text", "align": "center", "baseline": "top", "fontSize": 8, "color": "#111", "dy": 4, "dx": -2, "clip": false},
    "encoding": {"x": {"field": "i", "type": "quantitative", "scale": {"domain": [-0.58, 89.3], "nice": false, "zero": false}, "axis": null},
     "y": {"datum": -0.00735, "type": "quantitative", "scale": {"domain": [-0.00735, 0.0089], "nice": false, "zero": false}, "title": null, "axis": null},
     "text": {"field": "t"}}},
   {"data": {"name": "xl"}, "transform": [{"filter": "datum.mo"}],
    "mark": {"type": "text", "align": "center", "baseline": "top", "fontSize": 8, "fontWeight": "bold", "color": "#111", "dy": 4, "dx": -2, "clip": false},
    "encoding": {"x": {"field": "i", "type": "quantitative", "scale": {"domain": [-0.58, 89.3], "nice": false, "zero": false}, "axis": null},
     "y": {"datum": -0.00735, "type": "quantitative", "scale": {"domain": [-0.00735, 0.0089], "nice": false, "zero": false}, "title": null, "axis": null},
     "text": {"field": "t"}}},
   {"data": {"values": [{"m": -0.0041}]},
    "mark": {"type": "point", "shape": "M-1,-0.34H1V0.34H-1Z", "size": 900, "filled": true, "fill": "white", "stroke": "#999999", "strokeWidth": 0.8, "opacity": 1, "clip": false, "yOffset": -6},
    "encoding": {"x": {"datum": 92.4, "type": "quantitative", "scale": {"domain": [-0.58, 89.3], "nice": false, "zero": false}, "axis": null},
     "y": {"field": "m", "type": "quantitative", "scale": {"domain": [-0.00735, 0.0089], "nice": false, "zero": false}, "title": null, "axis": null}}},
   {"data": {"values": [{"m": -0.0041}]},
    "mark": {"type": "text", "align": "center", "baseline": "middle", "fontSize": 8, "color": "#3a3af0", "dy": -6, "clip": false},
    "encoding": {"x": {"datum": 92.4, "type": "quantitative", "scale": {"domain": [-0.58, 89.3], "nice": false, "zero": false}, "axis": null},
     "y": {"field": "m", "type": "quantitative", "scale": {"domain": [-0.00735, 0.0089], "nice": false, "zero": false}, "title": null, "axis": null},
     "text": {"field": "m", "type": "quantitative", "format": ".4f"}}},
   {"data": {"values": [{"m": -0.005}]},
    "mark": {"type": "point", "shape": "M-1,-0.34H1V0.34H-1Z", "size": 900, "filled": true, "fill": "white", "stroke": "#999999", "strokeWidth": 0.8, "opacity": 1, "clip": false, "yOffset": 1},
    "encoding": {"x": {"datum": 92.4, "type": "quantitative", "scale": {"domain": [-0.58, 89.3], "nice": false, "zero": false}, "axis": null},
     "y": {"field": "m", "type": "quantitative", "scale": {"domain": [-0.00735, 0.0089], "nice": false, "zero": false}, "title": null, "axis": null}}},
   {"data": {"values": [{"m": -0.005}]},
    "mark": {"type": "text", "align": "center", "baseline": "middle", "fontSize": 8, "color": "#e04040", "dy": 1, "clip": false},
    "encoding": {"x": {"datum": 92.4, "type": "quantitative", "scale": {"domain": [-0.58, 89.3], "nice": false, "zero": false}, "axis": null},
     "y": {"field": "m", "type": "quantitative", "scale": {"domain": [-0.00735, 0.0089], "nice": false, "zero": false}, "title": null, "axis": null},
     "text": {"field": "m", "type": "quantitative", "format": ".4f"}}},
   {"data": {"values": []}, "mark": {"type": "square"},
    "encoding": {"color": {"field": "s", "type": "nominal",
      "scale": {"domain": ["MACD (12 26 9) -0,0050", "-0,0041"], "range": ["#f05050", "#3a3af0"]},
      "legend": {"orient": "top-left", "direction": "horizontal", "title": null, "offset": 0, "padding": 2, "fillColor": "white", "strokeColor": "#9a9a9a", "symbolType": "square", "symbolSize": 45, "symbolStrokeColor": "#444", "symbolStrokeWidth": 0.6, "labelOffset": 3, "columnPadding": 4}}}}
  ]
 }
]
}
